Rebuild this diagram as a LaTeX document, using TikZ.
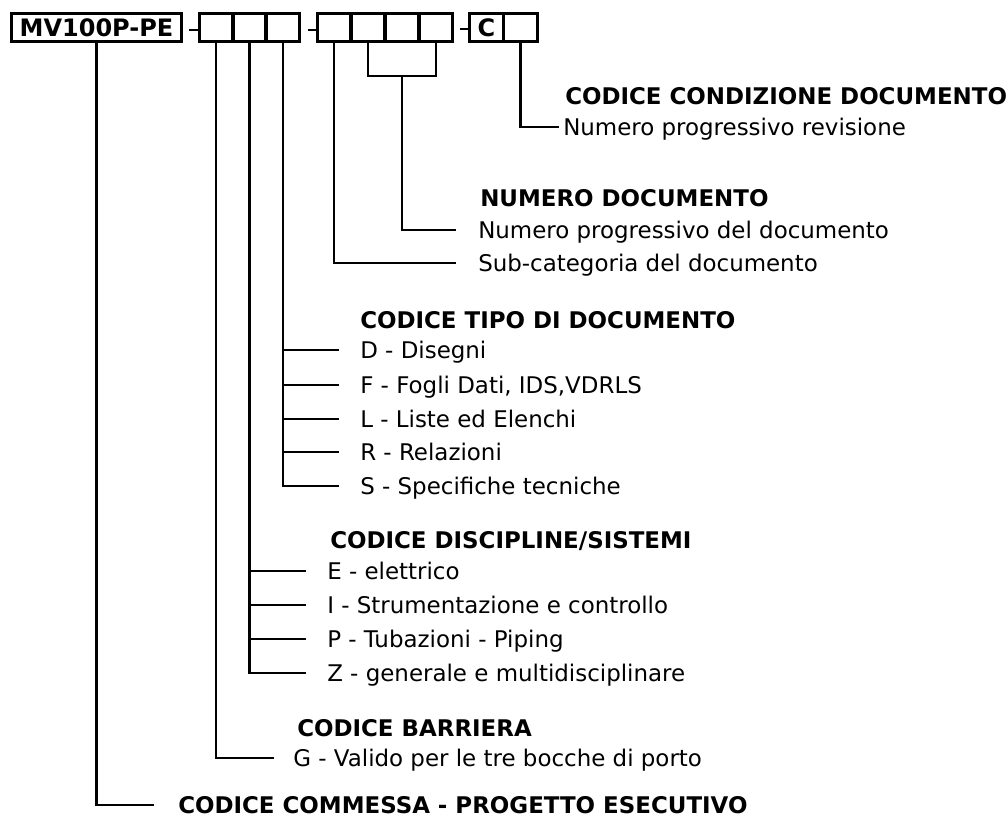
\documentclass[tikz,border=0pt]{standalone}
\usepackage{fontspec}
\setmainfont{DejaVu Sans}
\begin{document}
\begin{tikzpicture}[x=0.75pt,y=-0.75pt,
  cellA/.style={draw, line width=2.6pt, minimum width=25pt, minimum height=21pt, inner sep=0pt,
    font=\bfseries\fontsize{18}{19}\selectfont},
  cellB/.style={cellA, minimum width=25.31pt},
  cellC/.style={cellA, minimum width=25.5pt},
  conn/.style={line width=1.6pt, line cap=rect},
  txt/.style={anchor=west, inner sep=0pt, text height=12.4pt, text depth=0pt,
    font=\fontsize{17.2}{19}\selectfont},
  hdr/.style={txt, font=\bfseries\fontsize{17.2}{19}\selectfont}]
\useasboundingbox (0,0) rectangle (1008,819);
% code boxes
\node[cellA, minimum width=127.5pt] (mv) at (96.5,27.5) {MV100P-PE};
\node[cellA] (c1) at (216.2,27.5) {};
\node[cellA] (c2) at (249.5,27.5) {};
\node[cellA] (c3) at (282.8,27.5) {};
\node[cellB] (c4) at (334.4,27.5) {};
\node[cellB] (c5) at (368.1,27.5) {};
\node[cellB] (c6) at (401.9,27.5) {};
\node[cellB] (c7) at (435.6,27.5) {};
\node[cellC] (c8) at (486.5,27.5) {C};
\node[cellC] (c9) at (520.5,27.5) {};
% separating dashes
\draw[conn, line cap=butt] ([xshift=4.5pt,yshift=-2pt]mv.east) -- ([yshift=-2pt]c1.west);
\draw[conn, line cap=butt] ([xshift=-5.5pt,yshift=-2pt]c4.west) -- ([yshift=-2pt]c4.west);
\draw[conn, line cap=butt] ([xshift=-5.5pt,yshift=-1pt]c8.west) -- ([yshift=-1pt]c8.west);
% texts
\node[hdr] (hC) at (565,96) {CODICE CONDIZIONE DOCUMENTO};
\node[txt] (tC) at (563,127) {Numero progressivo revisione};
\node[hdr] (hN) at (480,198) {NUMERO DOCUMENTO};
\node[txt] (tN1) at (478,230) {Numero progressivo del documento};
\node[txt] (tN2) at (478,263) {Sub-categoria del documento};
\node[hdr] (hT) at (360,320) {CODICE TIPO DI DOCUMENTO};
\node[txt] (tD) at (360,350) {D - Disegni};
\node[txt] (tF) at (360,385) {F - Fogli Dati, IDS,VDRLS};
\node[txt] (tL) at (360,419) {L - Liste ed Elenchi};
\node[txt] (tR) at (360,452) {R - Relazioni};
\node[txt] (tS) at (360,486) {S - Specifiche tecniche};
\node[hdr] (hD) at (330,540) {CODICE DISCIPLINE/SISTEMI};
\node[txt] (tE) at (327,571) {E - elettrico};
\node[txt] (tI) at (327,605) {I - Strumentazione e controllo};
\node[txt] (tP) at (327,639) {P - Tubazioni - Piping};
\node[txt] (tZ) at (327,673) {Z - generale e multidisciplinare};
\node[hdr] (hB) at (297,728) {CODICE BARRIERA};
\node[txt] (tG) at (293,758) {G - Valido per le tre bocche di porto};
\node[hdr] (hM) at (178,805) {CODICE COMMESSA - PROGETTO ESECUTIVO};
% connectors
\coordinate (brk) at (403,76);
\draw[conn] (c9.south) |- ([xshift=-3.75pt]tC.west);
\draw[conn] (c5.south) -- (c5.south |- brk) -- (c7.south |- brk) -- (c7.south);
\draw[conn] (c6.south |- brk) |- ([xshift=-17pt]tN1.west);
\draw[conn] (c4.south) |- ([xshift=-17pt]tN2.west);
\foreach \t in {tD,tF,tL,tR,tS}
  \draw[conn] (c3.south) |- ([xshift=-16.5pt]\t.west);
\foreach \t in {tE,tI,tP,tZ}
  \draw[conn] (c2.south) |- ([xshift=-16.5pt]\t.west);
\draw[conn] (c1.south) |- ([xshift=-15pt]tG.west);
\draw[conn] (mv.south) |- ([xshift=-18.75pt]hM.west);
\end{tikzpicture}
\end{document}
